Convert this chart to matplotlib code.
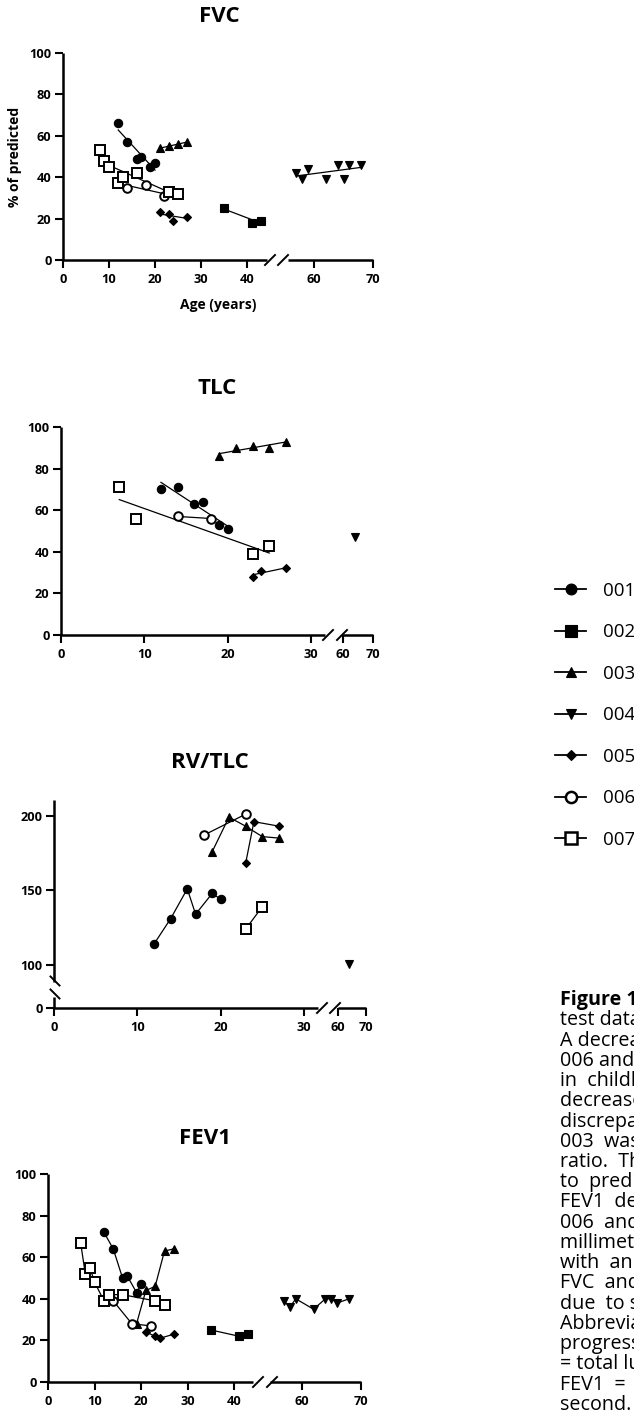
import numpy as np
import matplotlib
matplotlib.use('Agg')
import matplotlib.pyplot as plt
from matplotlib.lines import Line2D

W, H = 634, 1413

patients = ['001', '002', '003', '004', '005', '006', '007']
markers = ['o', 's', '^', 'v', 'D', 'o', 's']
hollow = [False, False, False, False, False, True, True]
msize = [6, 6.2, 6, 6, 4.2, 6.2, 6.5]

# FVC, % of predicted (linear fits drawn)
fvc_age = [[12, 14, 16, 17, 19, 20], [35, 41, 43], [21, 23, 25, 27],
           [57, 58, 59, 62, 64, 65, 66, 68], [21, 23, 24, 27], [14, 18, 22],
           [8, 9, 10, 12, 13, 16, 23, 25]]
fvc_val = [[66, 57, 49, 50, 45, 47], [25, 18, 19], [54, 55, 56, 57],
           [42, 39, 44, 39, 46, 39, 46, 46], [23, 22, 19, 21], [35, 36, 31],
           [53, 48, 45, 37, 40, 42, 33, 32]]

# TLC, % of predicted (linear fits drawn)
tlc_age = [[12, 14, 16, 17, 19, 20], [], [19, 21, 23, 25, 27], [64],
           [23, 24, 27], [14, 18], [7, 9, 23, 25]]
tlc_val = [[70, 71, 63, 64, 53, 51], [], [86, 90, 91, 90, 93], [47],
           [28, 31, 32], [57, 56], [71, 56, 39, 43]]

# RV/TLC, % of predicted (points connected)
rvtlc_age = [[12, 14, 16, 17, 19, 20], [], [19, 21, 23, 25, 27], [64],
             [23, 24, 27], [18, 23], [23, 25]]
rvtlc_val = [[114, 131, 151, 134, 148, 144], [], [176, 199, 193, 186, 185], [101],
             [168, 196, 193], [187, 201], [124, 139]]

# FEV1, % of predicted (points connected)
fev1_age = [[12, 14, 16, 17, 19, 20], [35, 41, 43], [19, 21, 23, 25, 27],
            [57, 58, 59, 62, 64, 65, 66, 68], [21, 23, 24, 27], [14, 18, 22],
            [7, 8, 9, 10, 12, 13, 16, 23, 25]]
fev1_val = [[72, 64, 50, 51, 43, 47], [25, 22, 23], [28, 44, 46, 63, 64],
            [39, 36, 40, 35, 40, 40, 38, 40], [24, 22, 21, 23], [39, 28, 27],
            [67, 52, 55, 48, 39, 42, 42, 39, 37]]

caption = [
    'test data of the patients over time.',
    'A decrease in FVC was observed in all',
    '006 and 007 and this was most evident',
    'in  childhood and adolescence. The',
    'decrease in TLC showed a similar',
    'discrepancy between patients. Patient',
    '003  was the only one with a stable',
    'ratio.  The RV/TLC ratio was elevated',
    'to  predicted values in all patients.',
    'FEV1  decreased in all patients except',
    '006  and 007 with an annual loss of',
    'millimeters per year, in accordance',
    'with  an obstructive pattern. Both',
    'FVC  and FEV1 measurements were',
    'due  to scoliosis and weakness.',
    'Abbreviations: FVC = forced vital capacity;',
    'progressive; RV = residual volume; TLC',
    '= total lung capacity; RV/TLC = ratio;',
    'FEV1  =  forced expiratory volume in one',
    'second.',
]

plt.rcParams['font.family'] = ['Open Sans', 'DejaVu Sans']
plt.rcParams['font.weight'] = 'bold'

fig = plt.figure(figsize=(W / 100, H / 100), dpi=100)


def add_ax(x0, x1, y0, y1):
    return fig.add_axes([x0 / W, 1 - y1 / H, (x1 - x0) / W, (y1 - y0) / H])


def style(ax, left=True, bottom=True):
    ax.patch.set_alpha(0)
    for s in ['top', 'right']:
        ax.spines[s].set_visible(False)
    ax.spines['left'].set_visible(left)
    ax.spines['bottom'].set_visible(bottom)
    for s in ['left', 'bottom']:
        ax.spines[s].set_linewidth(1.8)
        ax.spines[s].set_capstyle('butt')
    ax.tick_params(width=1.5, length=5.8, labelsize=9.2)
    ax.tick_params(axis='x', pad=3.5)
    ax.tick_params(axis='y', pad=2.5)
    if not left:
        ax.tick_params(axis='y', left=False, labelleft=False)
    if not bottom:
        ax.tick_params(axis='x', bottom=False, labelbottom=False)


def slash(xc, yc, dx=5, dy=5):
    fig.add_artist(Line2D([(xc - dx) / W, (xc + dx) / W],
                          [1 - (yc + dy) / H, 1 - (yc - dy) / H],
                          color='black', lw=1.4, transform=fig.transFigure))


def draw(ax_lo, ax_hi, ages, vals, fit):
    for i in range(len(patients)):
        a = np.array(ages[i], dtype=float)
        v = np.array(vals[i], dtype=float)
        if len(a) == 0:
            continue
        ax = ax_lo if a.max() < 50 else ax_hi
        face = 'white' if hollow[i] else 'black'
        mk = dict(marker=markers[i], ms=msize[i], mfc=face, mec='black',
                  mew=1.4 if hollow[i] else 0.8, clip_on=False)
        if fit:
            if len(a) > 1:
                k, b = np.polyfit(a, v, 1)
                xs = np.array([a.min(), a.max()])
                ax.plot(xs, k * xs + b, color='black', lw=0.9, zorder=2,
                        clip_on=False)
            ax.plot(a, v, ls='none', zorder=3, **mk)
        else:
            ax.plot(a, v, color='black', lw=0.9, zorder=3, **mk)


def title(text, xc, yc):
    fig.text(xc / W, 1 - yc / H, text, ha='center', va='center',
             fontsize=16, fontweight='bold')


# ---- FVC ----
a1 = add_ax(63, 267, 53, 260)
a2 = add_ax(288, 373, 53, 260)
a1.set_xlim(0, 204 / 4.6)
a2.set_xlim(60 - 26 / 5.9, 70)
for ax in (a1, a2):
    ax.set_ylim(0, 100)
    ax.set_yticks(range(0, 101, 20))
a1.set_xticks(range(0, 41, 10))
a2.set_xticks([60, 70])
style(a1)
style(a2, left=False)
draw(a1, a2, fvc_age, fvc_val, fit=True)
slash(270, 260)
slash(283, 260)
title('FVC', 219, 16)
fig.text(15 / W, 1 - 157 / H, '% of predicted', rotation=90, ha='center',
         va='center', fontsize=10, fontweight='bold')
fig.text(218 / W, 1 - 305 / H, 'Age (years)', ha='center', va='center',
         fontsize=10, fontweight='bold')

# ---- TLC ----
b1 = add_ax(61, 325, 427, 635)
b2 = add_ax(343, 373, 427, 635)
b1.set_xlim(0, 264 / 8.33)
b2.set_xlim(60, 70)
for ax in (b1, b2):
    ax.set_ylim(0, 100)
    ax.set_yticks(range(0, 101, 20))
b1.set_xticks([0, 10, 20, 30])
b2.set_xticks([60, 70])
style(b1)
style(b2, left=False)
draw(b1, b2, tlc_age, tlc_val, fit=True)
slash(328, 635)
slash(342, 635)
title('TLC', 217, 389)

# ---- RV/TLC ----
c1 = add_ax(54, 318, 800, 982)
c2 = add_ax(338, 366, 800, 982)
c3 = add_ax(54, 318, 997, 1008)
c4 = add_ax(338, 366, 997, 1008)
for ax in (c1, c3):
    ax.set_xlim(0, 264 / 8.33)
for ax in (c2, c4):
    ax.set_xlim(60, 70)
for ax in (c1, c2):
    ax.set_ylim(100 - 17 / 1.493, 200 + 15.7 / 1.493)
for ax in (c3, c4):
    ax.set_ylim(0, 11 / 1.493)
c1.set_yticks([100, 150, 200])
c3.set_yticks([0])
c3.set_xticks([0, 10, 20, 30])
c4.set_xticks([60, 70])
style(c1, bottom=False)
style(c2, left=False, bottom=False)
style(c3)
style(c4, left=False)
draw(c1, c2, rvtlc_age, rvtlc_val, fit=False)
slash(322, 1008)
slash(335, 1008)
slash(55, 981, dx=4.5, dy=-4.5)
slash(55, 994, dx=4.5, dy=-4.5)
title('RV/TLC', 210, 763)

# ---- FEV1 ----
d1 = add_ax(48, 253, 1174, 1382)
d2 = add_ax(270, 361, 1174, 1382)
d1.set_xlim(0, 205 / 4.66)
d2.set_xlim(60 - 31.7 / 5.93, 70)
for ax in (d1, d2):
    ax.set_ylim(0, 100)
    ax.set_yticks(range(0, 101, 20))
d1.set_xticks(range(0, 41, 10))
d2.set_xticks([60, 70])
style(d1)
style(d2, left=False)
draw(d1, d2, fev1_age, fev1_val, fit=False)
slash(258, 1382)
slash(272, 1382)
title('FEV1', 205, 1138)

# ---- legend ----
handles = []
for i, p in enumerate(patients):
    handles.append(Line2D([], [], color='black', lw=1.3, marker=markers[i],
                          ms=msize[i] * 1.3, mfc='white' if hollow[i] else 'black',
                          mec='black', mew=1.8 if hollow[i] else 0.8, label=p))
fig.legend(handles=handles, loc='upper left', bbox_to_anchor=(555 / W, 1 - 582 / H),
           frameon=False, borderpad=0, borderaxespad=0, handlelength=1.66,
           handletextpad=0.9, labelspacing=1.25,
           prop={'family': 'Open Sans', 'weight': 'normal', 'size': 13.5})

# ---- caption ----
fig.text(560 / W, 1 - 1000 / H, 'Figure 1', ha='left', va='center',
         fontsize=14.2, fontweight='bold', family='Open Sans')
for j, line in enumerate(caption):
    fig.text(560 / W, 1 - (1000 + 20.25 * (j + 1)) / H, line, ha='left',
             va='center', fontsize=14.2, fontweight='normal', family='Open Sans')

fig.savefig('out.png', dpi=100)
